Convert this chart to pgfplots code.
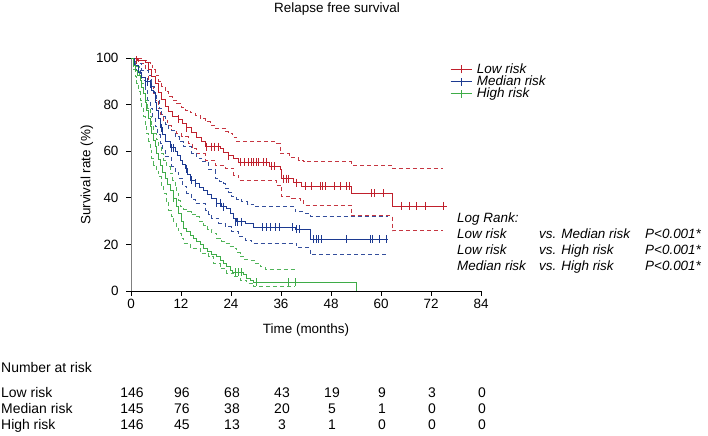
\documentclass[border=0pt]{standalone}
\usepackage{pgfplots}
\pgfplotsset{compat=1.18}
\usepackage{fontspec}
\setmainfont{Liberation Sans}
\definecolor{cred}{RGB}{192,32,44}
\definecolor{cblue}{RGB}{28,58,145}
\definecolor{cgreen}{RGB}{62,172,72}
\newcommand{\fs}{\fontsize{13.5}{16}\selectfont}
\newcommand{\ft}{\fontsize{14}{16}\selectfont}
\begin{document}
\begin{tikzpicture}
\useasboundingbox (0bp,0bp) rectangle (708bp,436bp);
\begin{axis}[
  scale only axis, width=350bp, height=233bp,
  at={(131bp,145bp)}, anchor=south west,
  xmin=0, xmax=84, ymin=0, ymax=100,
  axis x line*=bottom, axis y line*=left,
  x axis line style={black,-,line width=0.8pt},
  y axis line style={gray,-,line width=0.8pt},
  xtick={0,12,...,84}, ytick={0,20,...,100},
  tick align=outside, major tick length=5bp,
  tick style={black,line width=0.7pt},
  ticklabel style={font=\fs},
  yticklabel style={xshift=-4bp},
  /pgf/number format/assume math mode=true,
  clip=false,
  legend style={at={(0.911,0.985)}, anchor=north west, draw=none, fill=none,
    font=\fs\itshape, row sep=-3bp, column sep=3bp, inner sep=0pt},
  legend cell align=left,
  legend image code/.code={\draw[#1] (0bp,0bp) -- (21bp,0bp); \draw[#1] (10.5bp,-4bp) -- (10.5bp,4bp);},
]
% ---------- CI dashed ----------
\addplot[forget plot, cred!90, line width=0.8pt, dash pattern=on 4bp off 3bp, const plot] coordinates {
(0,100)(2.6,99)(3.6,98)(4.6,97)(5.2,95)(5.8,92.7)(6.6,90)(7.4,87.7)(8.2,85.5)(9,83.4)(10,82)(11,80.5)(12,79)(13,77.7)(14.2,76.5)(15.4,75.5)(16.6,74)(17.8,72.7)(19,71.2)(20.2,69.8)(22.6,68.4)(23.4,67.7)(24.4,66)(25.4,64)(35,63.4)(35.8,59)(38,57.5)(40.2,56.2)(41.4,55.5)(52.8,54.1)(62.7,52.7)(74.9,52.7)};
\addplot[forget plot, cred!90, line width=0.8pt, dash pattern=on 4bp off 3bp, const plot] coordinates {
(0,100)(1.7,97.7)(3.4,95.7)(4.1,90.5)(4.7,88)(5.3,85)(5.9,82)(6.5,78.5)(7.1,76)(7.7,73.4)(8.8,71)(9.8,69)(11,67.5)(12.2,66.2)(13.7,63.4)(14.7,61)(15.8,59)(17.8,56.2)(20.2,54)(22.6,52.7)(24.6,49.8)(25.8,47.6)(34.8,45.5)(36.2,40.5)(38.6,39.8)(40.6,39)(41.4,36.7)(52.8,32.4)(62.7,25.8)(74.9,25.8)};
\addplot[forget plot, cblue!90, line width=0.8pt, dash pattern=on 4bp off 3bp, const plot] coordinates {
(0,100)(0.5,97.8)(2.6,94.8)(4.1,92.7)(5,87.7)(5.6,85)(6.2,82)(6.8,78.5)(7.4,74.8)(8.2,71.5)(9,69.1)(10.6,66.2)(11.6,64)(12.6,62)(14.6,59.1)(15.8,57)(17,55.5)(18.6,52)(20.2,48.4)(21.2,47.2)(22.2,46.2)(22.6,44)(23.4,42.5)(24.2,40.5)(25.4,39.5)(26.6,38.3)(28,37.2)(29.4,36.2)(38.2,36.2)(39.4,34)(41.8,33.3)(43,32)(61.7,32)};
\addplot[forget plot, cblue!90, line width=0.8pt, dash pattern=on 4bp off 3bp, const plot] coordinates {
(0,100)(1,95)(2.2,90.5)(3.4,86.3)(4,82)(4.6,78.4)(5.2,74.5)(5.8,70.5)(6.4,67)(7,63.4)(7.6,60.5)(8.2,57.6)(9.8,53.5)(10.6,51)(11.4,48.4)(12.4,45)(13.4,41.9)(14.4,39.5)(15.4,37.6)(17.8,34.8)(18.6,33)(19.4,31.2)(21,29)(22.6,27.6)(24.2,25.5)(25.8,23.3)(27.4,21.8)(29,20.4)(38.6,20.4)(39.8,18.5)(43,15.5)(61.7,15.5)};
\addplot[forget plot, cgreen!90, line width=0.8pt, dash pattern=on 4bp off 3bp, const plot] coordinates {
(0,100)(0.8,98)(1.4,96.3)(2,92.5)(2.6,89.1)(3,85.5)(3.4,82)(4,78.5)(4.6,74.8)(5,71)(5.4,67.7)(6,65)(6.6,62)(7.2,59)(7.8,56.2)(8.6,53.3)(9.4,50.5)(10,47.6)(10.6,44.8)(11,42)(11.4,39)(11.8,36.2)(12.6,35)(13.4,34)(14.4,33)(15.4,31.9)(16.4,30)(17.4,28.3)(18.4,26.5)(19.4,24.8)(20.6,22.6)(21.8,21.5)(22.6,20.4)(23.6,19.2)(24.6,18.3)(25.4,16.5)(26.2,14.7)(27.2,13.5)(28.2,13.1)(29.8,11.9)(31,10.5)(32.2,9.3)(39.4,9.3)};
\addplot[forget plot, cgreen!90, line width=0.8pt, dash pattern=on 4bp off 3bp, const plot] coordinates {
(0,100)(0.5,95)(1,92)(1.4,89)(1.8,85.5)(2.2,82)(2.6,78.5)(3,74.8)(3.4,71)(3.8,67.7)(4.2,64)(4.6,60.5)(5,57)(5.4,54)(6,51.5)(6.6,49)(7.2,45.5)(7.8,41.9)(8.4,38)(9,34.8)(9.6,32)(10.2,29)(10.8,27)(11.4,24.8)(12,22.6)(12.6,20.4)(14.2,18.3)(16.6,16.2)(18.6,14.7)(19.8,11.8)(21.4,9.5)(23,7.6)(24.6,6.1)(26.2,4.7)(27.8,3.3)(29.4,1.8)(39.4,1.8)};
% ---------- main curves ----------
\addplot[forget plot, cred, line width=0.9pt, const plot] coordinates {
(0,100)(1.5,99)(3.4,98)(4.2,95)(5,92)(5.8,89)(6.6,85)(7.4,82)(8.2,79)(8.9,77)(10,75)(11.3,73.8)(12.4,72)(13.4,70)(14.5,68)(15.8,66)(16.8,64)(17.8,62)(21.4,61)(22.2,59.5)(23.3,58)(24.5,57)(25.8,55.3)(33.2,53.5)(35.8,52)(36.2,48.2)(39,46.5)(40.8,45)(52.8,41.9)(62.7,36.5)(75.8,36.5)};
\addplot[forget plot, cblue, line width=0.9pt, const plot] coordinates {
(0,100)(0.8,97)(1.7,93.6)(2.5,91.5)(3.4,89.8)(4.6,89)(5,86)(5.3,85)(5.8,81)(6.2,77.7)(6.6,74)(7,70)(7.6,67)(8.2,64)(9.4,61.4)(10.6,59.8)(11.2,58)(11.8,56)(12.4,54.5)(13,52.5)(13.6,50)(14.2,47.6)(15.4,46.2)(16.4,44.5)(17.4,43.3)(18.4,41.5)(19.4,39.8)(20.6,37.6)(21.8,36.2)(22.8,35.5)(23.8,33.3)(24.6,31.2)(25.4,29.7)(27.4,29)(29.4,27.3)(39.5,26.6)(43,22.2)(61.6,22.2)};
\addplot[forget plot, cgreen, line width=0.9pt, const plot] coordinates {
(0,100)(0.5,97)(1,94.8)(1.6,92.5)(2.2,90.5)(2.6,87.5)(3,84.8)(3.4,81)(3.8,77.7)(4.2,74)(4.6,70.5)(5,67.5)(5.4,64.8)(5.8,62)(6.2,59.1)(6.6,56.5)(7,54)(7.6,51)(8.2,48.4)(8.8,45.8)(9.4,43.3)(10.2,39.8)(10.8,36.5)(11.4,33.3)(12,30)(12.6,26.9)(13.4,25.5)(14.2,24)(15,22.6)(15.8,21.2)(16.6,19.8)(17.4,18.3)(18.4,17)(19.4,15.5)(20.6,14.7)(21.4,13.3)(22.2,11.9)(23,10.5)(23.8,9)(24.4,8)(27,6.9)(27.8,5.4)(28.6,4.7)(29.4,3.7)(54.2,3.7)(54.2,0)};
% ---------- censor marks ----------
\addplot[forget plot, only marks, cred, mark=|, mark size=4bp, mark options={line width=0.8pt}] coordinates {
(1.2,99)(11.3,73.8)(13.4,70)(18.2,62)(19.2,62)(20.0,62)(21.0,62)(23.3,58)
(26.2,55.3)(27.2,55.3)(28.2,55.3)(28.8,55.3)(29.4,55.3)(30.0,55.3)(30.6,55.3)(31.8,55.3)(32.6,55.3)
(33.6,53.5)(34.4,53.5)(36.6,48.2)(37.2,48.2)(37.8,48.2)(39.8,46.5)
(41.8,45)(43.4,45)(45.4,45)(46.0,45)(46.6,45)(48.8,45)(50.2,45)(51.6,45)(52.4,45)
(57.8,41.9)(58.4,41.9)(60.5,41.9)(64.8,36.5)(66.7,36.5)(68.6,36.5)(70.6,36.5)(74.9,36.5)};
\addplot[forget plot, only marks, cblue, mark=|, mark size=4bp, mark options={line width=0.8pt}] coordinates {
(3.4,89.8)(4.0,89.8)(4.6,89)(7.4,70)(9.6,61.4)(10.2,61.4)(13.2,52.5)(14.4,47.6)(15.4,46.2)(20.6,37.6)(21.4,37.6)(22.2,36.2)(25.0,29.7)(25.6,29.7)(26.4,29.7)
(31.6,27.3)(32.4,27.3)(33.4,27.3)(34.6,27.3)(35.6,27.3)(38.8,27.3)(39.8,26.6)(40.4,26.6)(43.8,22.2)(44.4,22.2)(45,22.2)(45.6,22.2)(51.8,22.2)(57.4,22.2)(57.9,22.2)(59.6,22.2)(61.4,22.2)};
\addplot[forget plot, only marks, cgreen, mark=|, mark size=4bp, mark options={line width=0.8pt}] coordinates {
(10.2,39.8)(25.0,8)(25.7,8)(26.6,8)(30.0,3.7)(37.7,3.7)(39.4,3.7)};
% ---------- legend ----------
\addlegendimage{cred, line width=0.9pt}
\addlegendentry{Low risk}
\addlegendimage{cblue, line width=0.9pt}
\addlegendentry{Median risk}
\addlegendimage{cgreen, line width=0.9pt}
\addlegendentry{High risk}
\end{axis}
% titles and labels
\node[font=\fs] at (337bp,427bp) {Relapse free survival};
\node[font=\fs] at (306bp,106bp) {Time (months)};
\node[font=\fs, rotate=90] at (87bp,261bp) {Survival rate (\%)};
% log rank
\begin{scope}[every node/.style={font=\fs\itshape, anchor=base west, inner sep=0pt}]
\node at (457bp,213bp) {Log Rank:};
\node at (457bp,197bp) {Low risk};
\node at (539bp,197bp) {vs. Median risk};
\node at (645bp,197bp) {P<0.001*};
\node at (457bp,181bp) {Low risk};
\node at (539bp,181bp) {vs. High risk};
\node at (645bp,181bp) {P<0.001*};
\node at (457bp,165bp) {Median risk};
\node at (539bp,165bp) {vs. High risk};
\node at (645bp,165bp) {P<0.001*};
\end{scope}
% number at risk
\begin{scope}[every node/.style={font=\ft, anchor=base, inner sep=0pt}]
\node[anchor=base west] at (1bp,63bp) {Number at risk};
\node[anchor=base west] at (1bp,39bp) {Low risk};
\node[anchor=base west] at (1bp,23bp) {Median risk};
\node[anchor=base west] at (1bp,7bp) {High risk};
\foreach \v [count=\i from 0] in {146,96,68,43,19,9,3,0} {\node at (132bp+\i*50bp,39bp) {\v};}
\foreach \v [count=\i from 0] in {145,76,38,20,5,1,0,0} {\node at (132bp+\i*50bp,23bp) {\v};}
\foreach \v [count=\i from 0] in {146,45,13,3,1,0,0,0} {\node at (132bp+\i*50bp,7bp) {\v};}
\end{scope}
\end{tikzpicture}
\end{document}
